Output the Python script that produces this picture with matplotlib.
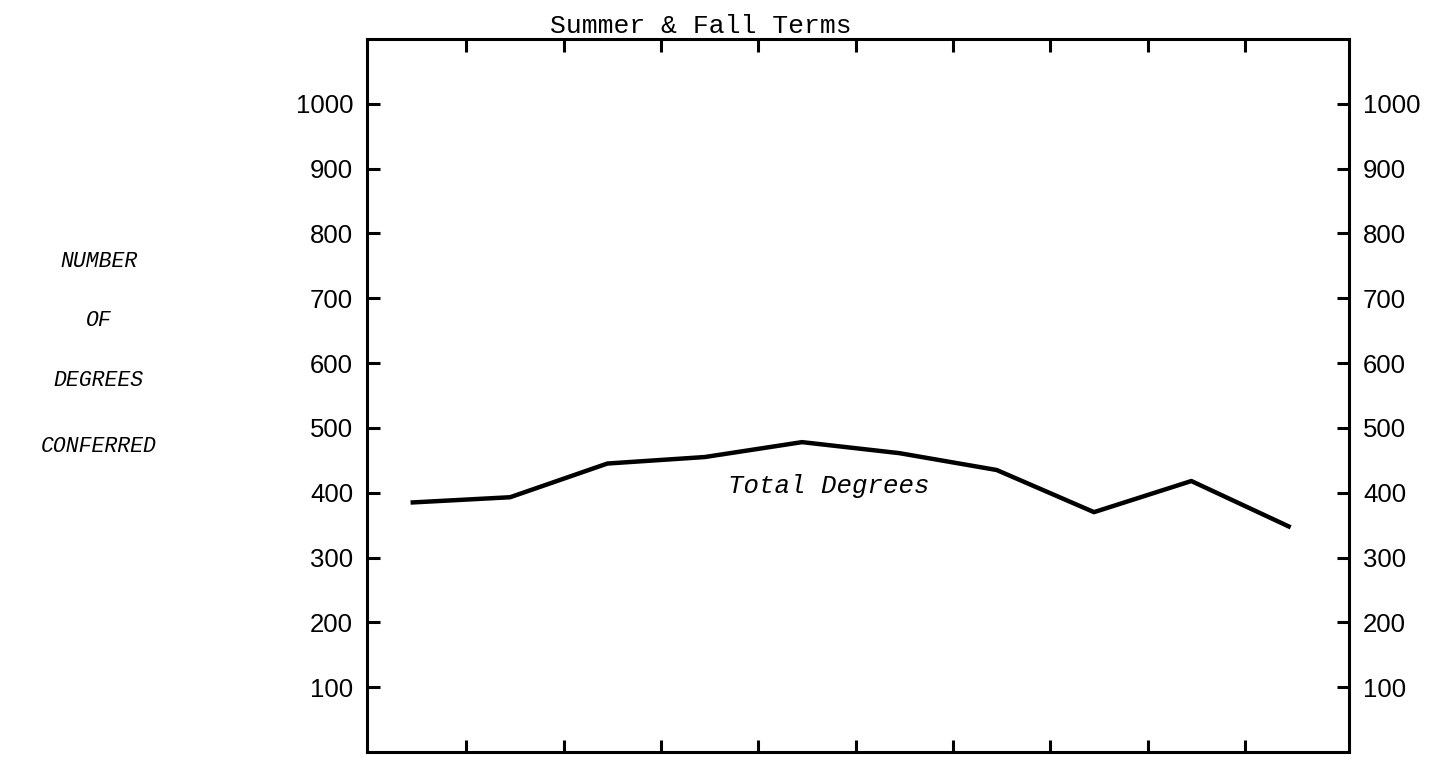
import matplotlib
matplotlib.use('Agg')
import matplotlib.pyplot as plt
import numpy as np

# one point per term, left to right (no category labels on the original)
term_index = np.arange(10)
total_degrees = [385, 393, 445, 455, 478, 461, 435, 370, 418, 348]

y_ticks = [100, 200, 300, 400, 500, 600, 700, 800, 900, 1000]
x_ticks = [1, 2, 3, 4, 5, 6, 7, 8, 9]

y_label_lines = ['NUMBER', 'OF', 'DEGREES', 'CONFERRED']

fig = plt.figure(figsize = (14.31, 7.57), dpi = 100)
ax = fig.add_axes([0.2565, 0.0066, 0.6862, 0.942])

ax.plot(term_index + 0.45, total_degrees, color = 'black', lw = 3.2, solid_joinstyle = 'round')

ax.set_xlim(-0.02, 10.07)
ax.set_ylim(0, 1100)

ax.set_xticks(x_ticks)
ax.set_yticks(y_ticks)
ax.set_yticklabels([str(v) for v in y_ticks], family = 'Liberation Sans', fontsize = 18.5)

ax.tick_params(axis = 'x', direction = 'in', top = True, bottom = True,
    labelbottom = False, length = 9, width = 2.2)
ax.tick_params(axis = 'y', direction = 'in', left = True, right = True,
    labelleft = True, labelright = True, length = 9, width = 2.2, pad = 10)

for s in ax.spines.values():
    s.set_linewidth(2.2)

ax.set_title('Summer & Fall Terms', family = 'Liberation Mono', fontsize = 19, pad = 4, x = 0.34)

ax.text(4.72, 411, 'Total Degrees', family = 'Liberation Mono', style = 'italic',
    fontsize = 18.5, ha = 'center', va = 'center')

# stacked y label, one word per line, left of the tick labels
for label, y in zip(y_label_lines, [0.654, 0.576, 0.498, 0.41]):
    fig.text(0.069, y, label, family = 'Liberation Mono', style = 'italic',
        fontsize = 15.5, ha = 'center', va = 'center')

fig.savefig('out.png', dpi = 100)
